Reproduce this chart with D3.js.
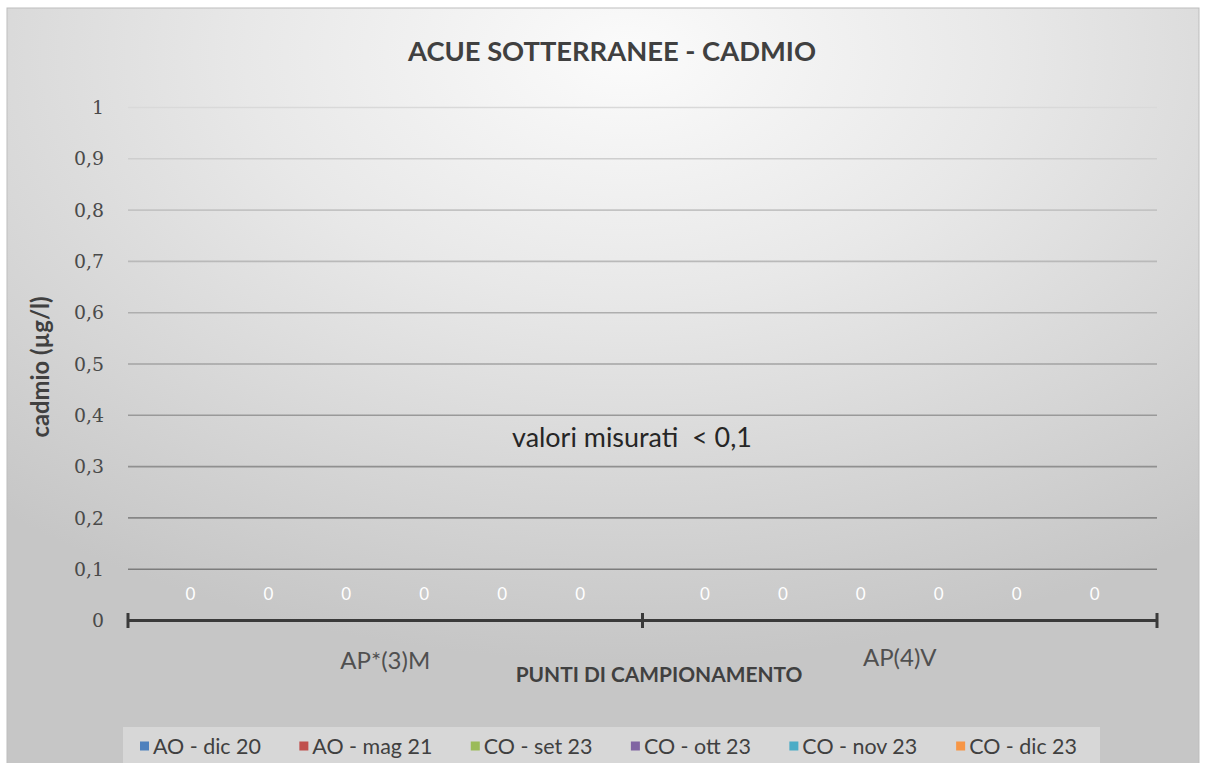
<!DOCTYPE html>
<html>
<head>
<meta charset="utf-8">
<script src="https://cdn.jsdelivr.net/npm/d3@7"></script>
<style>
  html, body { margin: 0; padding: 0; background: #ffffff; }
  svg { display: block; }
</style>
</head>
<body>
<script>
// ---------------- DATA ----------------
const chartTitle = "ACUE SOTTERRANEE - CADMIO";
const yAxisTitle = "cadmio (µg/l)";
const xAxisTitle = "PUNTI DI CAMPIONAMENTO";
const annotation = "valori misurati  < 0,1";
const categories = ["AP*(3)M", "AP(4)V"];
const seriesNames = ["AO - dic 20", "AO - mag 21", "CO - set 23", "CO - ott 23", "CO - nov 23", "CO - dic 23"];
const aoDic20 = [0, 0];
const aoMag21 = [0, 0];
const coSet23 = [0, 0];
const coOtt23 = [0, 0];
const coNov23 = [0, 0];
const coDic23 = [0, 0];
const yTicks = [0, 0.1, 0.2, 0.3, 0.4, 0.5, 0.6, 0.7, 0.8, 0.9, 1];
const yTickLabels = ["0", "0,1", "0,2", "0,3", "0,4", "0,5", "0,6", "0,7", "0,8", "0,9", "1"];
const seriesColors = ["#4f81bd", "#c0504d", "#9bbb59", "#8064a2", "#4bacc6", "#f79646"];

const seriesValues = [aoDic20, aoMag21, coSet23, coOtt23, coNov23, coDic23];
const series = seriesNames.map((name, i) => ({ name, values: seriesValues[i], color: seriesColors[i] }));

// ---------------- LAYOUT ----------------
const W = 1206, H = 763;
const plot = { left: 128, right: 1157, top: 107, bottom: 620 };
const SANS = "Lato, 'Open Sans', sans-serif";
const SERIF = "'DejaVu Serif', serif";

const canvas = document.createElement("canvas");
const ctx = canvas.getContext("2d");
function fitSize(text, family, weight, targetWidth) {
  ctx.font = `${weight} 100px ${family}`;
  const w = ctx.measureText(text).width;
  return 100 * targetWidth / w;
}

const svg = d3.select("body").append("svg").attr("width", W).attr("height", H);
const defs = svg.append("defs");

const bg = defs.append("radialGradient").attr("id", "bg")
  .attr("cx", 0.52).attr("cy", 0.06).attr("r", 0.8).attr("fx", 0.52).attr("fy", 0.06);
bg.append("stop").attr("offset", 0).attr("stop-color", "#fbfbfb");
bg.append("stop").attr("offset", 0.4).attr("stop-color", "#e8e8e8");
bg.append("stop").attr("offset", 1).attr("stop-color", "#c6c6c6");

// chart frame
svg.append("rect").attr("x", 7).attr("y", 8).attr("width", 1192).attr("height", 760)
  .attr("fill", "url(#bg)").attr("stroke", "#bdbdbd").attr("stroke-width", 1);

// scales
const y = d3.scaleLinear().domain([0, 1]).range([plot.bottom, plot.top]);
const x0 = d3.scaleBand().domain(categories).range([plot.left, plot.right]).paddingInner(0).paddingOuter(0);
const x1 = d3.scaleBand().domain(seriesNames).range([0, x0.bandwidth()]).paddingInner(0).paddingOuter(0.3);
const gridColor = d3.scaleLinear().domain([0.1, 0.5, 1]).range(["#7c7c7c", "#a3a3a3", "#d9d9d9"]);

// gridlines
const gridAxis = d3.axisLeft(y).tickValues(yTicks.filter(t => t > 0))
  .tickSize(-(plot.right - plot.left)).tickFormat("");
const gg = svg.append("g").attr("transform", `translate(${plot.left},0)`).call(gridAxis);
gg.select(".domain").remove();
gg.selectAll(".tick line").attr("stroke", d => gridColor(d)).attr("stroke-width", 1.6);

// y tick labels
const tickSize = fitSize("0,9", SERIF, "normal", 30);
const yAxis = d3.axisLeft(y).tickValues(yTicks).tickSize(0).tickPadding(0)
  .tickFormat((d, i) => yTickLabels[i]);
const ya = svg.append("g").attr("transform", `translate(104,0)`).call(yAxis);
ya.select(".domain").remove();
ya.selectAll("text").attr("font-family", SERIF).attr("font-size", tickSize)
  .attr("fill", "#4a4a4a").attr("dy", "0.35em");

// bars (zero values)
const barG = svg.append("g");
categories.forEach((cat, ci) => {
  series.forEach(s => {
    const v = s.values[ci];
    barG.append("rect")
      .attr("x", x0(cat) + x1(s.name) + x1.bandwidth() * 0.1)
      .attr("width", x1.bandwidth() * 0.8)
      .attr("y", y(v)).attr("height", y(0) - y(v))
      .attr("fill", s.color);
  });
});

// data labels
const lblSize = 17;
categories.forEach((cat, ci) => {
  series.forEach(s => {
    const v = s.values[ci];
    svg.append("text")
      .attr("x", x0(cat) + x1(s.name) + x1.bandwidth() / 2)
      .attr("y", y(v) - 26).attr("dy", "0.35em")
      .attr("text-anchor", "middle")
      .attr("font-family", SANS).attr("font-size", lblSize)
      .attr("fill", "#ffffff")
      .text(String(v).replace(".", ","));
  });
});

// x axis line with ticks
const xAxis = d3.axisBottom(x0).tickSize(0).tickFormat("");
const xa = svg.append("g").attr("transform", `translate(0,${plot.bottom})`).call(xAxis);
xa.select(".domain").attr("stroke", "#3a3a3a").attr("stroke-width", 3);
const boundaries = categories.map(c => x0(c)).concat([x0(categories[categories.length - 1]) + x0.bandwidth()]);
svg.append("g").selectAll("line").data(boundaries).join("line")
  .attr("x1", d => d).attr("x2", d => d)
  .attr("y1", y(0) - 7).attr("y2", y(0) + 8)
  .attr("stroke", "#3a3a3a").attr("stroke-width", 3);

// category labels
const catSize = fitSize("AP*(3)M", SANS, "normal", 90);
svg.append("g").selectAll("text").data(categories).join("text")
  .attr("x", d => x0(d) + x0.bandwidth() / 2)
  .attr("y", (d, i) => i === 0 ? 661 : 658).attr("dy", "0.35em")
  .attr("text-anchor", "middle")
  .attr("font-family", SANS).attr("font-size", catSize).attr("fill", "#505050")
  .text(d => d);

// x axis title
svg.append("text").attr("x", 659).attr("y", 675).attr("dy", "0.35em")
  .attr("text-anchor", "middle").attr("font-family", SANS).attr("font-weight", "bold")
  .attr("font-size", fitSize(xAxisTitle, SANS, "bold", 287)).attr("fill", "#404040")
  .text(xAxisTitle);

// y axis title
svg.append("text").attr("transform", "translate(41,367) rotate(-90)").attr("dy", "0.35em")
  .attr("text-anchor", "middle").attr("font-family", SANS).attr("font-weight", "bold")
  .attr("font-size", fitSize(yAxisTitle, SANS, "bold", 141)).attr("fill", "#404040")
  .text(yAxisTitle);

// chart title
svg.append("text").attr("x", 612).attr("y", 51).attr("dy", "0.35em")
  .attr("text-anchor", "middle").attr("font-family", SANS).attr("font-weight", "bold")
  .attr("font-size", fitSize(chartTitle, SANS, "bold", 408)).attr("fill", "#404040")
  .text(chartTitle);

// annotation
svg.append("text").attr("x", 632).attr("y", 438).attr("dy", "0.35em")
  .attr("text-anchor", "middle").attr("font-family", SANS)
  .attr("font-size", fitSize(annotation, SANS, "normal", 240)).attr("fill", "#262626")
  .style("white-space", "pre")
  .text(annotation);

// legend
const legBox = { x: 123, y: 727, w: 977, h: 37 };
svg.append("rect").attr("x", legBox.x).attr("y", legBox.y).attr("width", legBox.w).attr("height", legBox.h)
  .attr("fill", "#ffffff").attr("fill-opacity", 0.3);
const legSize = fitSize("AO - dic 20", SANS, "normal", 108);
ctx.font = `normal ${legSize}px ${SANS}`;
const sq = 9, sqGap = 4;
const widths = seriesNames.map(n => sq + sqGap + ctx.measureText(n).width);
const startX = 140, endX = 1077;
const itemGap = (endX - startX - d3.sum(widths)) / (seriesNames.length - 1);
let lx = startX;
const legY = legBox.y + 19;
series.forEach((s, i) => {
  svg.append("rect").attr("x", lx).attr("y", legY - sq / 2).attr("width", sq).attr("height", sq)
    .attr("fill", s.color);
  svg.append("text").attr("x", lx + sq + sqGap).attr("y", legY).attr("dy", "0.35em")
    .attr("font-family", SANS).attr("font-size", legSize).attr("fill", "#404040")
    .text(s.name);
  lx += widths[i] + itemGap;
});
</script>
</body>
</html>
